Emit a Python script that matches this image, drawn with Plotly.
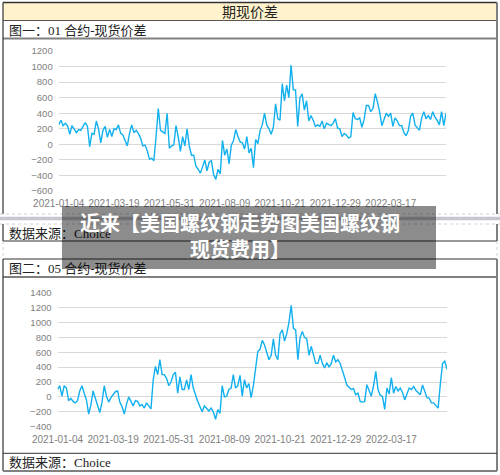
import plotly.graph_objects as go

W, H = 500, 475

# ---------------- data ----------------
tick_labels = ["2021-01-04", "2021-03-19", "2021-05-31", "2021-08-09",
               "2021-10-21", "2021-12-29", "2022-03-17"]
tick_pos = [0, 50, 100, 150, 200, 250, 300]
step = 2  # each value below = one reading every 2 trading days

spread_01 = [
    250, 310, 240, 270, 240, 130, 240, 200, 150, 190,
    180, 230, 280, 230, -30, 140, 130, 300, 200, 20,
    180, 230, 90, 190, 100, 200, 190, 250, 140, 120,
    50, -20, 140, 250, 150, 180, 140, 80, -20, -10,
    -80, -190, -180, -210, 100, 460, 180, 160, 140, 400,
    -50, -20, -10, 240, 100, -90, 100, -20, 200, -20,
    -140, -140, -280, -320, -370, -290, -200, -340, -230, -210,
    -390, -450, -320, -380, 50, -140, -60, -250, -10, 50,
    190, 100, 30, 20, -60, 100, -110, -50, -300, 60,
    10, 180, 250, 400, 250, 200, 130, 220, 520, 330,
    310, 780, 560, 760, 600, 1020, 700, 700, 230, 600,
    650, 440, 560, 300, 370, 310, 230, 250, 230, 300,
    200, 270, 250, 240, 270, 330, 210, 200, 100, 140,
    120, 80, 100, 410, 330, 320, 340, 220, 320, 500,
    500, 420, 460, 650, 550, 420, 240, 330, 400, 360,
    400, 230, 340, 300, 240, 240, 150, 110, 180, 360,
    400, 250, 210, 180, 340, 420, 330, 370, 320, 420,
    350, 310, 250, 420, 240, 400,
]

spread_05 = [
    100, 150, 10, 150, 120, -50, -20, -60, -80, -50,
    80, 150, 50, -40, -230, -110, 80, -20, -100, -210,
    -70, 150, 10, -70, -10, 30, 70, 80, -70, -130,
    -230, -100, 0, -60, -120, -50, -60, -120, -100, -150,
    -80, -120, -160, 230, 410, 300, 500, 300, 300, 250,
    150, 200, 300, 330, 50, 270, 100, 100, 230, 100,
    300, 120, 20, -60, -130, -200, -120, -150, -190, -150,
    -200, -300, -170, -220, 150, 0, 10, 100, 120, 300,
    120, 150, 290, 10, 230, 120, 180, -10, 150, 380,
    610, 640, 760, 700, 580, 500, 560, 780, 560, 500,
    850, 900, 750, 850, 1000, 1230, 920, 900, 500, 800,
    880, 800, 780, 560, 680, 550, 450, 450, 560, 450,
    390, 460, 400, 450, 560, 470, 500, 450, 340, 260,
    160, 130, 100, 110, 30, 50, -60, -70, -60, 165,
    76, 10, 150, 343, 100, 20, 10, -169, 120, 40,
    260, 50, 140, 80, 120, 60, -40, 50, 120, 100,
    140, 90, 60, 30, 160, 80, -10, -15, -80, -80,
    -120, -150, 170, 450, 480, 370,
]

title_text = "期现价差"
cap1 = "图一：01 合约-现货价差"
cap2 = "图二：05 合约-现货价差"
source_text = "数据来源：Choice"
banner_text = "<b>近来【美国螺纹钢走势图美国螺纹钢<br>现货费用】</b>"

# ---------------- helpers ----------------
def px(x):
    return x / W

def py(y):
    return 1 - y / H

LINE_COLOR = "#12B0EE"
GRID = "#D9D9D9"
TICKC = "#808080"
CJK = "Liberation Serif, Noto Sans CJK SC"

x1 = [i * step for i in range(len(spread_01))]
x2 = [i * step for i in range(len(spread_05))]

fig = go.Figure()
fig.add_trace(go.Scatter(x=x1, y=spread_01, mode="lines",
                         line=dict(color=LINE_COLOR, width=1.4),
                         xaxis="x", yaxis="y", showlegend=False))
fig.add_trace(go.Scatter(x=x2, y=spread_05, mode="lines",
                         line=dict(color=LINE_COLOR, width=1.4),
                         xaxis="x2", yaxis="y2", showlegend=False))

axis_common_x = dict(showgrid=False, zeroline=False, showline=False, ticks="",
                     tickvals=tick_pos, ticktext=tick_labels, tickangle=0,
                     automargin=False,
                     tickfont=dict(family="Liberation Sans", size=10, color=TICKC),
                     ticklabelstandoff=5)
axis_common_y = dict(showgrid=True, gridcolor=GRID, gridwidth=1, zeroline=False,
                     showline=False, ticks="", dtick=200, automargin=False,
                     tickfont=dict(family="Liberation Sans", size=9.5, color=TICKC),
                     ticklabelstandoff=5)

fig.update_layout(
    template="none",
    width=W, height=H,
    margin=dict(l=0, r=0, t=0, b=0, autoexpand=False),
    paper_bgcolor="white", plot_bgcolor="white",
    xaxis=dict(domain=[px(58.7), px(446)], range=[0, 350], anchor="y", **axis_common_x),
    yaxis=dict(domain=[py(191), py(51)], range=[-600, 1200], anchor="x", **axis_common_y),
    xaxis2=dict(domain=[px(57.5), px(447)], range=[0, 350], anchor="y2", **axis_common_x),
    yaxis2=dict(domain=[py(426.7), py(292.7)], range=[-400, 1400], anchor="x2", **axis_common_y),
)

shapes = []
def hline(y, x0=3, x1=497, color="#333333", width=1, dash="solid"):
    shapes.append(dict(type="line", xref="paper", yref="paper",
                       x0=px(x0), x1=px(x1), y0=py(y), y1=py(y),
                       line=dict(color=color, width=width, dash=dash)))

def vline(x, y0, y1, color="#333333", width=1, dash="solid"):
    shapes.append(dict(type="line", xref="paper", yref="paper",
                       x0=px(x), x1=px(x), y0=py(y0), y1=py(y1),
                       line=dict(color=color, width=width, dash=dash)))

def rect(x0, y0, x1, y1, fill):
    shapes.append(dict(type="rect", xref="paper", yref="paper",
                       x0=px(x0), x1=px(x1), y0=py(y0), y1=py(y1),
                       fillcolor=fill, line=dict(width=0), layer="below"))

# header band
rect(3, 3, 497, 20, "#FFF2CC")
hline(2.5, color="#333333", width=1.5)
hline(20.5, color="#555555", width=1)
hline(38.5, color="#808080", width=2)
vline(3, 2.5, 214, color="#333333", width=1.2)
vline(497, 2.5, 214, color="#808080", width=2)

# page-break decoration
hline(214, x0=0, x1=500, color="#CFCFCF", width=1, dash="dot")
rect(0, 216.8, 500, 220.3, "#C6C6D0")
hline(224, x0=0, x1=500, color="#CFCFCF", width=1, dash="dot")

# source row of first table
vline(3, 224, 241, color="#333333", width=1.2)
vline(497, 224, 241, color="#808080", width=2)
hline(241, color="#333333", width=1)
vline(497, 241, 259, color="#D0D0D0", width=1, dash="dot")
vline(3, 241, 259, color="#D0D0D0", width=1, dash="dot")

# second table
hline(259, color="#333333", width=1)
hline(277, color="#808080", width=2)
vline(3, 259, 471, color="#333333", width=1.2)
vline(497, 259, 471, color="#808080", width=2)
hline(453.3, color="#333333", width=1)
hline(471, color="#808080", width=2)

fig.update_layout(shapes=shapes)

ann = []
ann.append(dict(text=title_text, x=px(250), y=py(12), xref="paper", yref="paper",
                showarrow=False, xanchor="center", yanchor="middle",
                font=dict(family=CJK, size=14, color="#222222")))
ann.append(dict(text=cap1, x=px(7), y=py(30.5), xref="paper", yref="paper",
                showarrow=False, xanchor="left", yanchor="middle",
                font=dict(family=CJK, size=13, color="#222222")))
ann.append(dict(text=source_text, x=px(7), y=py(233), xref="paper", yref="paper",
                showarrow=False, xanchor="left", yanchor="middle",
                font=dict(family=CJK, size=13, color="#222222")))
ann.append(dict(text=cap2, x=px(7), y=py(268.5), xref="paper", yref="paper",
                showarrow=False, xanchor="left", yanchor="middle",
                font=dict(family=CJK, size=13, color="#222222")))
ann.append(dict(text=source_text, x=px(7), y=py(462.5), xref="paper", yref="paper",
                showarrow=False, xanchor="left", yanchor="middle",
                font=dict(family=CJK, size=13, color="#222222")))
# banner box
ann.append(dict(text=" ", x=px(62), y=py(206), xref="paper", yref="paper",
                showarrow=False, xanchor="left", yanchor="top",
                width=374, height=63, bgcolor="rgba(0,0,0,0.45)", borderpad=0,
                borderwidth=0, font=dict(size=10)))
ann.append(dict(text=banner_text, x=px(240), y=py(235.5), xref="paper", yref="paper",
                showarrow=False, xanchor="center", yanchor="middle", align="center",
                font=dict(family="Noto Sans CJK SC", size=20, color="white")))
fig.update_layout(annotations=ann)

fig.write_html("out.html", config={"displayModeBar": False},
               post_script="document.body.style.margin='0';document.body.style.padding='0';document.body.style.overflow='hidden';")
